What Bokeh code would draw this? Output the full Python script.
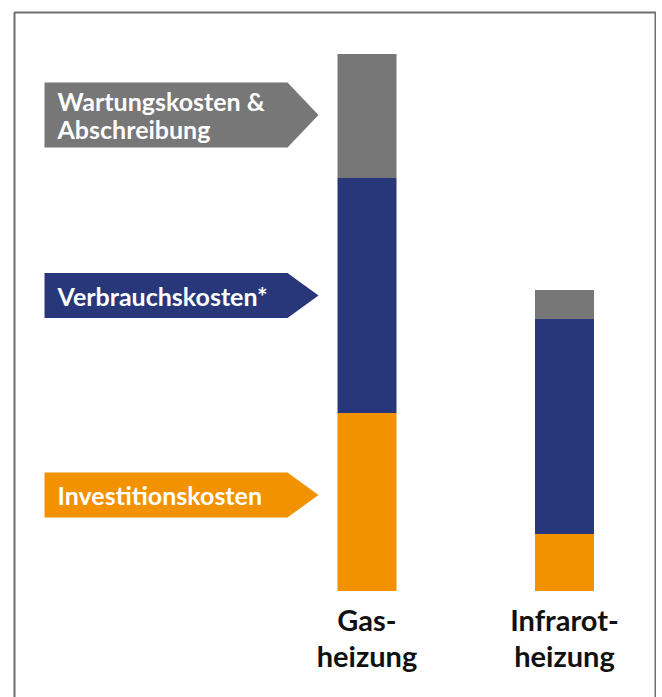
from bokeh.plotting import figure
from bokeh.models import Range1d, ColumnDataSource
from bokeh.core.properties import value
from bokeh.embed import file_html
from bokeh.resources import INLINE

# ---- data (relative cost units) ----
categories = ["Gas-\nheizung", "Infrarot-\nheizung"]
investitionskosten = [178, 57]
verbrauchskosten = [235, 215]
wartungskosten = [124, 29]
series_keys = ["investition", "verbrauch", "wartung"]
series_names = ["Investitionskosten", "Verbrauchskosten*", "Wartungskosten &\nAbschreibung"]
series_colors = ["#f39200", "#283779", "#777777"]
label_nudge = [7, 0, 1]   # small vertical offsets of the arrow labels (style)

# ---- geometry helpers (figure px -> data) ----
W, H = 656, 697
UNIT = 197.5        # px per category step
X0 = 366.5          # first bar centre, px from figure left
BASE = 590.5        # bar baseline, px from figure top


def xd(px):
    return 1 + (px - X0) / UNIT


def yd(py):
    return BASE - py


positions = [i + 1 for i in range(len(categories))]
src = ColumnDataSource(dict(x=positions, cat=categories,
                            investition=investitionskosten,
                            verbrauch=verbrauchskosten,
                            wartung=wartungskosten))

p = figure(width=W, height=H, x_range=Range1d(xd(0), xd(W)),
           y_range=Range1d(yd(H), yd(0)), output_backend="svg",
           toolbar_location=None, min_border=0)
p.axis.visible = False
p.grid.visible = False
p.outline_line_color = None
p.background_fill_color = "white"
p.border_fill_color = "white"

# frame border (open at the bottom, cut by the window)
p.line(x=[xd(14), xd(14), xd(655), xd(655)], y=[yd(H + 20), yd(12), yd(12), yd(H + 20)],
       line_color="#6e6e6e", line_width=2)

# stacked bars
p.vbar_stack(series_keys, x="x", width=59 / UNIT, color=series_colors,
             line_color=None, source=src)

# arrow labels next to the first bar
vals = [investitionskosten[0], verbrauchskosten[0], wartungskosten[0]]
bottom = 0
xs, ys, tx, ty = [], [], [], []
for i, name in enumerate(series_names):
    mid = bottom + vals[i] / 2 + label_nudge[i]
    bottom += vals[i]
    n = name.count("\n") + 1
    half = 12.5 + 10 * n
    l, r, t = xd(44), xd(287), xd(318)
    xs.append([l, r, t, r, l])
    ys.append([mid + half, mid + half, mid, mid - half, mid - half])
    tx.append(xd(57))
    ty.append(mid)
p.patches(xs=xs, ys=ys, fill_color=series_colors, line_color=None)
p.text(x=tx, y=ty, text=series_names, text_color="white",
       text_font=value("Lato"), text_font_style="bold", text_font_size="25px",
       text_align="left", text_baseline="middle", text_line_height=0.95)

# category labels under the bars
p.text(x="x", y=yd(601), text="cat", source=src, text_color="#111111",
       text_font=value("Lato"), text_font_style="bold", text_font_size="29px",
       text_align="center", text_baseline="top", text_line_height=1.05)

open("out.html", "w").write(file_html(p, INLINE))
